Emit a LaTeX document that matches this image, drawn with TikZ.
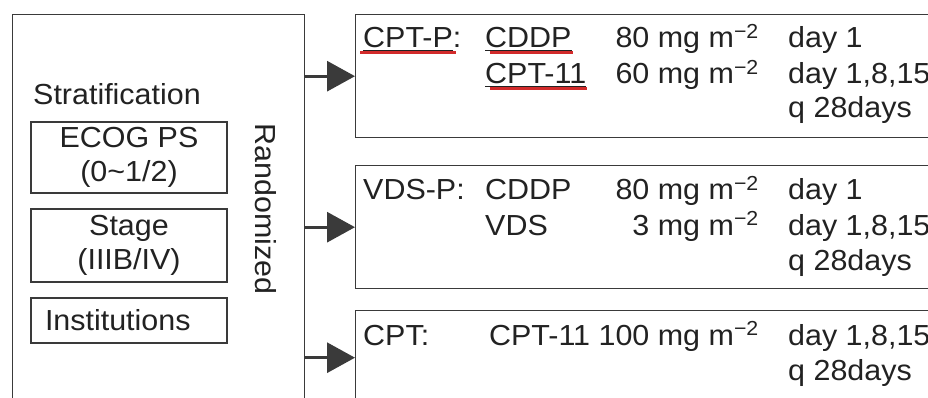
\documentclass[tikz,border=0pt]{standalone}
\usepackage{fontspec}
\setmainfont{Liberation Sans}[FakeStretch=1.05]
\usetikzlibrary{arrows.meta}
\definecolor{ink}{HTML}{222222}
\definecolor{rulegray}{HTML}{3A3A3A}
\definecolor{marker}{HTML}{D22B2B}
\newcommand{\mgsq}{mg m\textsuperscript{−2}}

\begin{document}
\begin{tikzpicture}[x=1pt,y=-1pt,
  every node/.style={font=\fontsize{29}{34}\selectfont, text=ink},
  box/.style={draw=rulegray, line width=1.4pt, rectangle, inner sep=0pt},
  sbox/.style={draw=rulegray, line width=1.2pt, rectangle, inner sep=0pt, align=center, minimum width=196pt},
  txt/.style={anchor=base west, inner sep=0pt},
  dose/.style={anchor=base east, inner sep=0pt},
  arr/.style={-{Triangle[length=28pt,width=30pt]}, line width=3pt, draw=rulegray},
  uline/.style={draw=ink, line width=1pt},
  redline/.style={draw=marker, line width=2.6pt}]
\useasboundingbox (0,0) rectangle (928,398);
\clip (0,0) rectangle (928,398);
\fill[white] (0,0) rectangle (928,398);

% stratification block
\node[box, anchor=north west, minimum width=292pt, minimum height=400pt] (lbox) at (12,14) {};
\node[txt] (strat) at (33,105) {Stratification};
\node[sbox, minimum height=71pt] (ecog) at (129,157.5) {ECOG PS\\(0\textasciitilde 1/2)};
\node[sbox, minimum height=73pt] (stage) at (129,245.5) {Stage\\(IIIB/IV)};
\node[sbox, minimum height=45pt, text width=168pt, inner xsep=14pt, align=left] (inst) at (129,320.5) {Institutions};
\node[rotate=-90] (rand) at (266,209) {Randomized};

% treatment arms
\node[box, anchor=north west, minimum width=600pt, minimum height=123pt] (cptp) at (355,14) {};
\node[box, anchor=north west, minimum width=600pt, minimum height=123pt] (vdsp) at (355,165) {};
\node[box, anchor=north west, minimum width=600pt, minimum height=94pt] (cpt) at (355,310) {};

%Drawing arrows
\draw[arr] (lbox.east |- cptp.west) -- (cptp.west);
\draw[arr] (lbox.east |- vdsp.west) -- (vdsp.west);
\draw[arr] (lbox.east |- cpt.west) -- (cpt.west);

% CPT-P
\node[txt] (cptpName) at (363,48) {CPT-P:};
\node[txt] (cptpDrugA) at (485,48) {CDDP};
\node[dose] (cptpDoseA) at (759,48) {80 \mgsq};
\node[txt] (cptpDayA) at (788,48) {day 1};
\node[txt] (cptpDrugB) at (485,84) {CPT-11};
\node[dose] (cptpDoseB) at (759,84) {60 \mgsq};
\node[txt] (cptpDayB) at (788,84) {day 1,8,15};
\node[txt] (cptpCycle) at (788,118) {q 28days};
\draw[redline] ([xshift=-3pt,yshift=-4.5pt]cptpName.base west) -- ([xshift=-6pt,yshift=-4.5pt]cptpName.base east);
\draw[redline] ([xshift=5pt,yshift=-4.5pt]cptpDrugA.base west) -- ([xshift=1pt,yshift=-4.5pt]cptpDrugA.base east);
\draw[redline] ([xshift=5pt,yshift=-4.5pt]cptpDrugB.base west) -- ([xshift=1pt,yshift=-4.5pt]cptpDrugB.base east);
\draw[uline] ([yshift=-2.5pt]cptpName.base west) -- ([xshift=-9pt,yshift=-2.5pt]cptpName.base east);
\draw[uline] ([yshift=-2.5pt]cptpDrugA.base west) -- ([yshift=-2.5pt]cptpDrugA.base east);
\draw[uline] ([yshift=-2.5pt]cptpDrugB.base west) -- ([yshift=-2.5pt]cptpDrugB.base east);

% VDS-P
\node[txt] (vdspName) at (363,200) {VDS-P:};
\node[txt] (vdspDrugA) at (485,200) {CDDP};
\node[dose] (vdspDoseA) at (759,200) {80 \mgsq};
\node[txt] (vdspDayA) at (788,200) {day 1};
\node[txt] (vdspDrugB) at (485,235) {VDS};
\node[dose] (vdspDoseB) at (759,235) {3 \mgsq};
\node[txt] (vdspDayB) at (788,235) {day 1,8,15};
\node[txt] (vdspCycle) at (788,270) {q 28days};

% CPT
\node[txt] (cptName) at (363,345) {CPT:};
\node[dose] (cptDose) at (759,345) {CPT-11 100 \mgsq};
\node[txt] (cptDay) at (788,345) {day 1,8,15};
\node[txt] (cptCycle) at (788,380) {q 28days};
\end{tikzpicture}
\end{document}
